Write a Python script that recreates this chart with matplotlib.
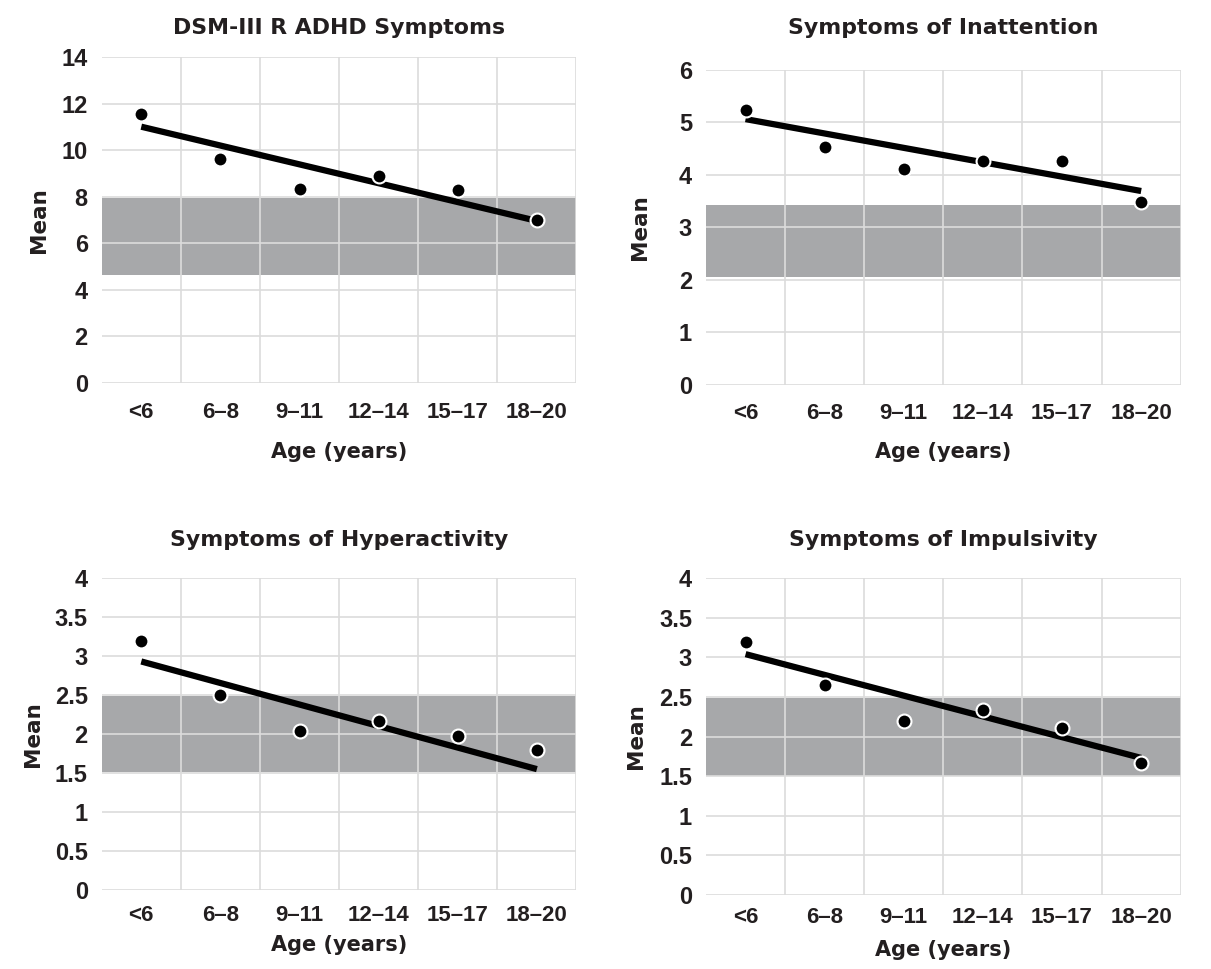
import numpy as np
import matplotlib.pyplot as plt
from matplotlib.ticker import FixedLocator

plt.rcParams['font.family'] = ['DejaVu Sans']
plt.rcParams['font.weight'] = 'bold'

ages = ["<6", "6\u20138", "9\u201311", "12\u201314", "15\u201317", "18\u201320"]

titles = ["DSM-III R ADHD Symptoms", "Symptoms of Inattention",
          "Symptoms of Hyperactivity", "Symptoms of Impulsivity"]

# group means
total_means = [11.54, 9.64, 8.34, 8.91, 8.29, 6.98]
inatt_means = [5.23, 4.53, 4.11, 4.26, 4.26, 3.49]
hyper_means = [3.19, 2.50, 2.04, 2.17, 1.97, 1.79]
impul_means = [3.19, 2.65, 2.19, 2.34, 2.11, 1.67]

# fitted line value at first and last age group
total_fit = [11.01, 6.96]
inatt_fit = [5.06, 3.69]
hyper_fit = [2.93, 1.55]
impul_fit = [3.04, 1.73]

# shaded normal range (low, high)
total_band = [4.65, 7.94]
inatt_band = [2.05, 3.43]
hyper_band = [1.51, 2.49]
impul_band = [1.50, 2.49]

# y ticks
total_yticks = [0, 2, 4, 6, 8, 10, 12, 14]
inatt_yticks = [0, 1, 2, 3, 4, 5, 6]
small_yticks = [0, 0.5, 1, 1.5, 2, 2.5, 3, 3.5, 4]

panels = [
    (total_means, total_fit, total_band, total_yticks),
    (inatt_means, inatt_fit, inatt_band, inatt_yticks),
    (hyper_means, hyper_fit, hyper_band, small_yticks),
    (impul_means, impul_fit, impul_band, small_yticks),
]

# layout: axes boxes [left, bottom, width, height], title y, xlabel y, ylabel x, xtick pad
boxes = [
    [0.084, 0.605, 0.392, 0.336],
    [0.583, 0.603, 0.392, 0.325],
    [0.084, 0.0815, 0.392, 0.322],
    [0.583, 0.0764, 0.392, 0.327],
]
title_y = [1.089, 1.133, 1.122, 1.12]
xlabel_y = [-0.212, -0.213, -0.176, -0.173]
ylabel_x = [-0.133, -0.139, -0.145, -0.147]
xtick_pad = [14, 13, 11, 9]

txt = '#231f20'
fig = plt.figure(figsize=(12.11, 9.69), dpi=100)

for i, (means, fit, band, yticks) in enumerate(panels):
    ax = fig.add_axes(boxes[i])
    x = np.arange(len(ages)) + 0.5
    ax.axhspan(band[0], band[1], color='#a7a8aa', zorder=0, lw=0)
    ax.plot([x[0], x[-1]], fit, color='black', lw=4.5, solid_capstyle='butt', zorder=3)
    ax.plot(x, means, 'o', color='black', ms=10, mec='white', mew=1.5, zorder=4)

    ax.set_xlim(0, len(ages))
    ax.set_ylim(yticks[0], yticks[-1])
    ax.xaxis.set_major_locator(FixedLocator(x))
    ax.set_xticklabels(ages, fontsize=16, color=txt, family='Liberation Sans')
    ax.xaxis.set_minor_locator(FixedLocator(np.arange(1, len(ages) + 1)))
    ax.set_yticks(yticks)
    ax.set_yticklabels([f"{t:g}" for t in yticks], fontsize=17, color=txt,
                       family='Liberation Sans')

    ax.grid(False)
    ax.grid(True, which='minor', axis='x', color='#dcdcdc', lw=1.2, zorder=1)
    ax.grid(True, which='major', axis='y', color='#dcdcdc', lw=1.2, zorder=1)
    ax.set_axisbelow(False)
    for s in ax.spines.values():
        s.set_visible(False)
    ax.tick_params(which='both', length=0)
    ax.tick_params(axis='y', pad=10)
    ax.tick_params(axis='x', pad=xtick_pad[i])

    ax.set_title(titles[i], fontsize=15.8, fontweight='bold', color=txt,
                 y=title_y[i], pad=0, va='center')
    ax.set_xlabel("Age (years)", fontsize=15, fontweight='bold', color=txt, va='center')
    ax.xaxis.set_label_coords(0.5, xlabel_y[i])
    ax.set_ylabel("Mean", fontsize=15.5, fontweight='bold', color=txt, va='center')
    ax.yaxis.set_label_coords(ylabel_x[i], 0.5)

fig.savefig("out.png", dpi=100)
